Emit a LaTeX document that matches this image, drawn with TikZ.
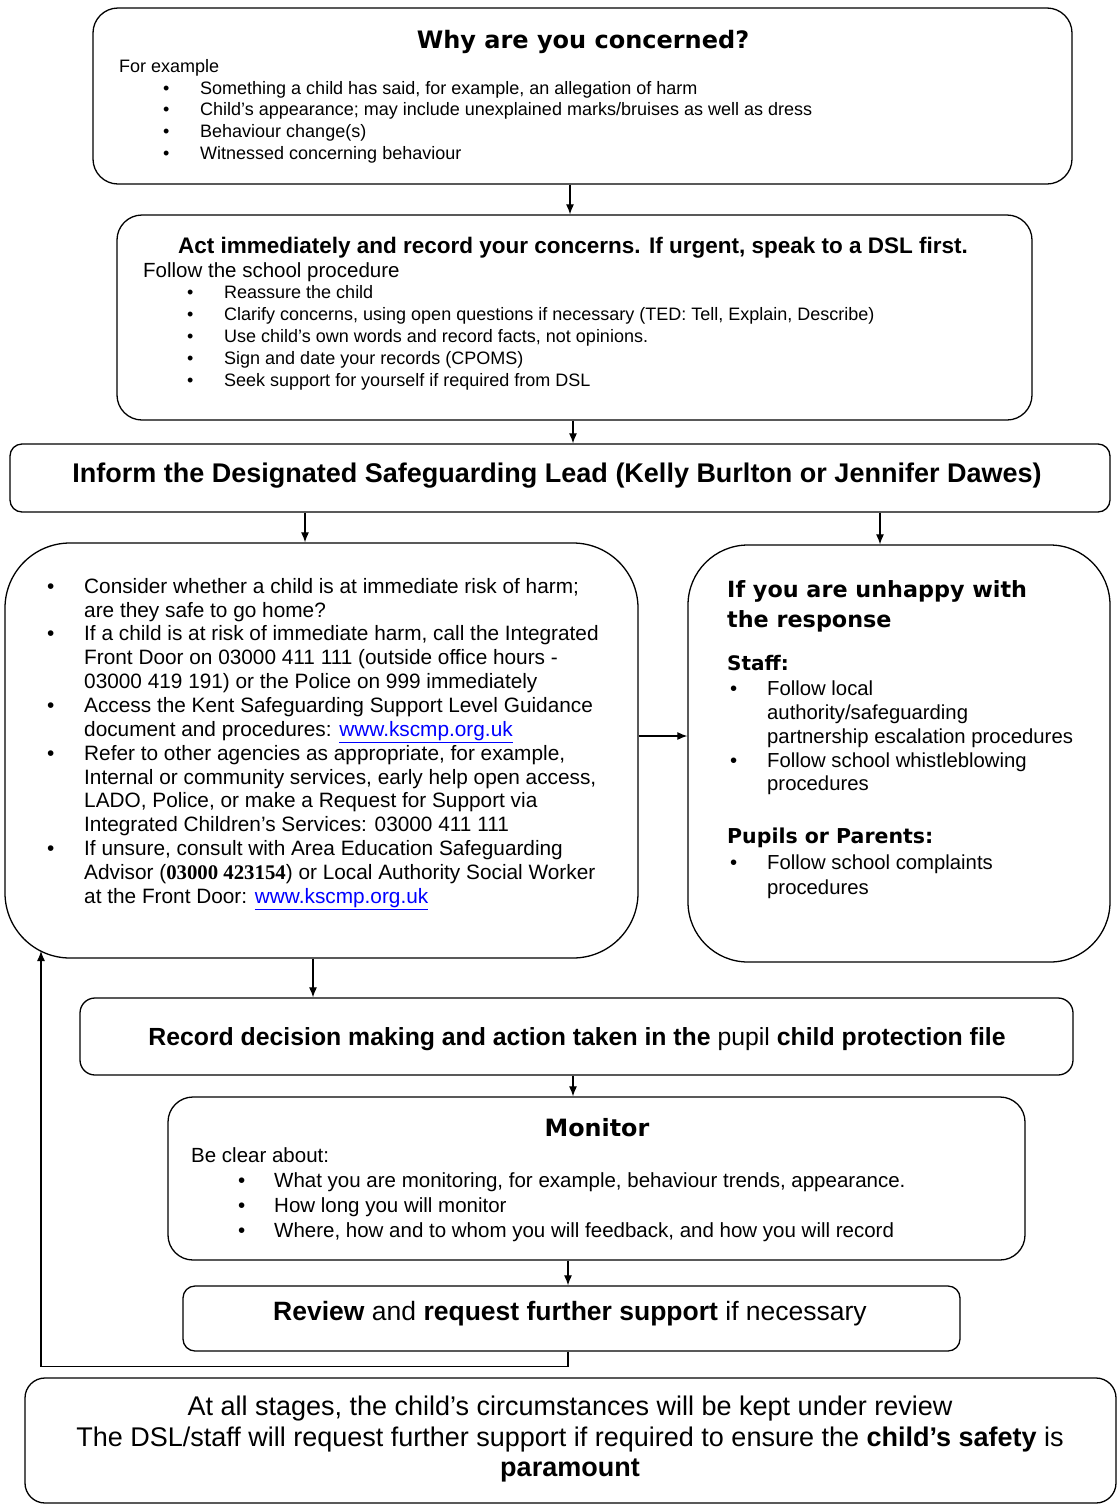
\documentclass[tikz,border=0pt]{standalone}
\usepackage{fontspec}
\setmainfont{Liberation Sans}
\newfontfamily\headfont{DejaVu Sans}
\newfontfamily\numfont{Liberation Serif}
\usetikzlibrary{arrows.meta}
\newcommand{\bitem}{\makebox[37pt][l]{\textbullet}}
\newcommand{\cont}{\hspace*{37pt}}
\newcommand{\weblink}{\textcolor{blue}{\underline{www.kscmp.org.uk}}}

\begin{document}
\begin{tikzpicture}[x=1pt,y=-1pt,
		box/.style={draw,line width=1.3pt,rounded corners=#1,inner sep=0pt},
		box/.default=25pt,
		txt/.style={inner sep=0pt,align=left,anchor=north west},
		arr/.style={-{Latex[length=10pt,width=8pt]},line width=1.2pt}]
		\useasboundingbox (0,0) rectangle (1117,1505);

		\node[box,minimum width=979pt,minimum height=176pt] (why) at (582.5,96) {};
		\node[box,minimum width=915pt,minimum height=205pt] (act) at (574.5,317.5) {};
		\node[box=12pt,minimum width=1100pt,minimum height=68pt] (inform) at (560,478) {};
		\node[box=65pt,minimum width=633pt,minimum height=415pt] (consider) at (321.5,750.5) {};
		\node[box=60pt,minimum width=422pt,minimum height=417pt] (unhappy) at (899,753.5) {};
		\node[box=15pt,minimum width=993pt,minimum height=77pt] (record) at (576.5,1036.5) {};
		\node[box,minimum width=857pt,minimum height=163pt] (monitor) at (596.5,1178.5) {};
		\node[box=12pt,minimum width=777pt,minimum height=65pt] (review) at (571.5,1318.5) {};
		\node[box=20pt,minimum width=1091pt,minimum height=125pt] (stages) at (570.5,1440.5) {};

		\node[inner sep=0pt,font=\headfont\bfseries\fontsize{24}{28}\selectfont] (whyhead) at (583,42) {Why are you concerned?};
		\node[txt,font=\fontsize{18}{21.8}\selectfont] (whytext) at (119,59) {For example\\
			\hspace*{44pt}\bitem Something a child has said, for example, an allegation of harm\\
			\hspace*{44pt}\bitem Child's appearance; may include unexplained marks/bruises as well as dress\\
			\hspace*{44pt}\bitem Behaviour change(s)\\
			\hspace*{44pt}\bitem Witnessed concerning behaviour};

		\node[inner sep=0pt,font=\bfseries\fontsize{22.5}{26}\selectfont] (acthead) at (573,248) {Act immediately and record your concerns. If urgent, speak to a DSL first.};
		\node[txt,font=\fontsize{18}{21.8}\selectfont] (acttext) at (143,262) {\fontsize{20.5}{21.8}\selectfont Follow the school procedure\\
			\hspace*{44pt}\bitem Reassure the child\\
			\hspace*{44pt}\bitem Clarify concerns, using open questions if necessary (TED: Tell, Explain, Describe)\\
			\hspace*{44pt}\bitem Use child's own words and record facts, not opinions.\\
			\hspace*{44pt}\bitem Sign and date your records (CPOMS)\\
			\hspace*{44pt}\bitem Seek support for yourself if required from DSL};

		\node[inner sep=0pt,font=\bfseries\fontsize{27}{30}\selectfont] (informtext) at (557,476) {Inform the Designated Safeguarding Lead (Kelly Burlton or Jennifer Dawes)};

		\node[txt,font=\fontsize{20.8}{23.85}\selectfont] (considertext) at (47,578) {\bitem Consider whether a child is at immediate risk of harm;\\
			\cont are they safe to go home?\\
			\bitem If a child is at risk of immediate harm, call the Integrated\\
			\cont Front Door on 03000 411 111 (outside office hours -\\
			\cont 03000 419 191) or the Police on 999 immediately\\
			\bitem Access the Kent Safeguarding Support Level Guidance\\
			\cont document and procedures: \weblink\\
			\bitem Refer to other agencies as appropriate, for example,\\
			\cont Internal or community services, early help open access,\\
			\cont LADO, Police, or make a Request for Support via\\
			\cont Integrated Children's Services: 03000 411 111\\
			\bitem If unsure, consult with Area Education Safeguarding\\
			\cont Advisor ({\numfont\bfseries 03000 423154}) or Local Authority Social Worker\\
			\cont at the Front Door: \weblink};

		\node[txt,font=\headfont\bfseries\fontsize{22.3}{30}\selectfont] (unhappyhead) at (727,580) {If you are unhappy with\\the response};
		\node[inner sep=0pt,anchor=west,font=\headfont\bfseries\fontsize{20}{24}\selectfont] (staffhead) at (727,663) {Staff:};
		\node[txt,font=\fontsize{20.3}{23.75}\selectfont] (stafftext) at (730,681) {\bitem Follow local\\
			\cont authority/safeguarding\\
			\cont partnership escalation procedures\\
			\bitem Follow school whistleblowing\\
			\cont procedures};
		\node[inner sep=0pt,anchor=west,font=\headfont\bfseries\fontsize{20.5}{24}\selectfont] (parenthead) at (727,838) {Pupils or Parents:};
		\node[txt,font=\fontsize{20.3}{25}\selectfont] (parenttext) at (730,855) {\bitem Follow school complaints\\
			\cont procedures};

		\node[inner sep=0pt,font=\fontsize{24.8}{28}\selectfont] (recordtext) at (577,1039) {\textbf{Record decision making and action taken in the} pupil \textbf{child protection file}};

		\node[inner sep=0pt,font=\headfont\bfseries\fontsize{23.8}{26}\selectfont] (monitorhead) at (597,1128) {Monitor};
		\node[txt,font=\fontsize{20.5}{25}\selectfont] (monitortext) at (191,1147) {Be clear about:\\
			\hspace*{47pt}\makebox[36pt][l]{\textbullet}What you are monitoring, for example, behaviour trends, appearance.\\
			\hspace*{47pt}\makebox[36pt][l]{\textbullet}How long you will monitor\\
			\hspace*{47pt}\makebox[36pt][l]{\textbullet}Where, how and to whom you will feedback, and how you will record};

		\node[inner sep=0pt,font=\fontsize{26.5}{30}\selectfont] (reviewtext) at (570,1314) {\textbf{Review} and \textbf{request further support} if necessary};

		\node[inner sep=0pt,align=center,anchor=north,font=\fontsize{27}{30.5}\selectfont] (stagestext) at (570,1396) {At all stages, the child's circumstances will be kept under review\\
			The DSL/staff will request further support if required to ensure the \textbf{child's safety} is\\
			\textbf{paramount}};

		\coordinate (back) at (41,951);

		\draw[arr] (why.south -| 570,0) -- (act.north -| 570,0);
		\draw[arr] (act.south -| 573,0) -- (inform.north -| 573,0);
		\draw[arr] (inform.south -| 305,0) -- (consider.north -| 305,0);
		\draw[arr] (inform.south -| 880,0) -- (unhappy.north -| 880,0);
		\draw[arr] (consider.east |- 0,736) -- (unhappy.west |- 0,736);
		\draw[arr] (consider.south -| 313,0) -- (record.north -| 313,0);
		\draw[arr] (record.south -| 573,0) -- (monitor.north -| 573,0);
		\draw[arr] (monitor.south -| 568,0) -- (review.north -| 568,0);
		\draw[arr] (review.south -| 568,0) -- ++(0,15) -| (back);

	\end{tikzpicture}
\end{document}
